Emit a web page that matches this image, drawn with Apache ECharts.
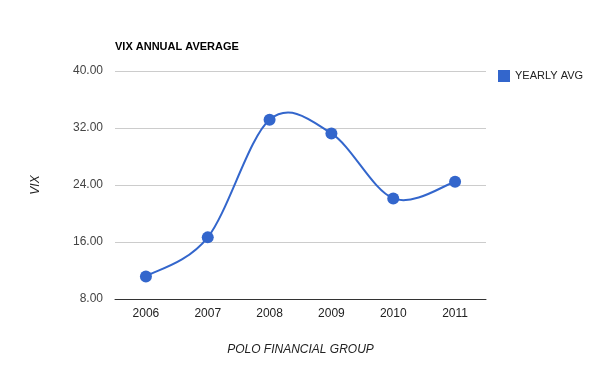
<!DOCTYPE html>
<html><head><meta charset="utf-8">
<script src="https://cdn.jsdelivr.net/npm/echarts@6/dist/echarts.min.js"></script>
<style>html,body{margin:0;padding:0;background:#fff}#c{width:600px;height:371px}</style>
</head><body><div id="c"></div>
<script>
const categories = ['2006','2007','2008','2009','2010','2011'];
const yearlyAvg = [11.17, 16.65, 33.16, 31.24, 22.12, 24.46];
const seriesName = 'YEARLY AVG';
const yTicks = {min: 8, max: 40, interval: 8};

const chart = echarts.init(document.getElementById('c'), null, {renderer: 'canvas'});
const font = 'Arial, "Liberation Sans", sans-serif';
const lineColor = '#3366cc';

// Catmull-Rom style curve (like Google "function" curves) drawn via the axes' coordinate system
function renderCurve(params, api) {
  const i = params.dataIndex;
  if (i === 0) return null;
  const n = yearlyAvg.length;
  const pt = j => { j = Math.max(0, Math.min(n - 1, j)); return api.coord([j, yearlyAvg[j]]); };
  const p0 = pt(i - 2), p1 = pt(i - 1), p2 = pt(i), p3 = pt(i + 1);
  const t = 1 / 6;
  const c1 = [p1[0] + (p2[0] - p0[0]) * t, p1[1] + (p2[1] - p0[1]) * t];
  const c2 = [p2[0] - (p3[0] - p1[0]) * t, p2[1] - (p3[1] - p1[1]) * t];
  return {
    type: 'bezierCurve',
    shape: {x1: p1[0], y1: p1[1], cpx1: c1[0], cpy1: c1[1], cpx2: c2[0], cpy2: c2[1], x2: p2[0], y2: p2[1]},
    style: {stroke: lineColor, lineWidth: 2, fill: null}
  };
}

chart.setOption({
  animation: false,
  backgroundColor: '#fff',
  title: {text: 'VIX ANNUAL AVERAGE', left: 115, top: 41, padding: 0,
    textStyle: {fontFamily: font, fontSize: 11, fontWeight: 'bold', color: '#000'}},
  legend: {data: [seriesName], left: 498, top: 70, padding: 0, orient: 'vertical',
    icon: 'rect', itemWidth: 12, itemHeight: 12, itemGap: 5,
    textStyle: {fontFamily: font, fontSize: 11, color: '#222', padding: [0, 0, 0, 0]}},
  grid: {left: 115, right: 114, top: 71, bottom: 72},
  xAxis: {type: 'category', data: categories, boundaryGap: true,
    name: 'POLO FINANCIAL GROUP', nameLocation: 'middle', nameGap: 45,
    nameTextStyle: {fontFamily: font, fontSize: 12, fontStyle: 'italic', color: '#222'},
    axisLine: {lineStyle: {color: '#333', width: 1}}, axisTick: {show: false},
    axisLabel: {fontFamily: font, fontSize: 12, color: '#222', margin: 9}},
  yAxis: {type: 'value', min: yTicks.min, max: yTicks.max, interval: yTicks.interval,
    name: 'VIX', nameLocation: 'middle', nameGap: 73, nameRotate: 90,
    nameTextStyle: {fontFamily: font, fontSize: 12, fontStyle: 'italic', color: '#222'},
    axisLine: {show: false}, axisTick: {show: false},
    splitLine: {lineStyle: {color: '#ccc', width: 1}},
    axisLabel: {fontFamily: font, fontSize: 12, color: '#444', margin: 12,
      formatter: v => v.toFixed(2)}},
  series: [
    {name: 'curve', type: 'custom', z: 2, silent: true,
      data: yearlyAvg.map((v, i) => [i, v]), renderItem: renderCurve,
      encode: {x: 0, y: 1}},
    {name: seriesName, type: 'line', z: 3, data: yearlyAvg,
      symbol: 'circle', symbolSize: 12, showSymbol: true,
      itemStyle: {color: lineColor}, lineStyle: {color: lineColor, width: 0, opacity: 0}}
  ]
});
</script></body></html>
